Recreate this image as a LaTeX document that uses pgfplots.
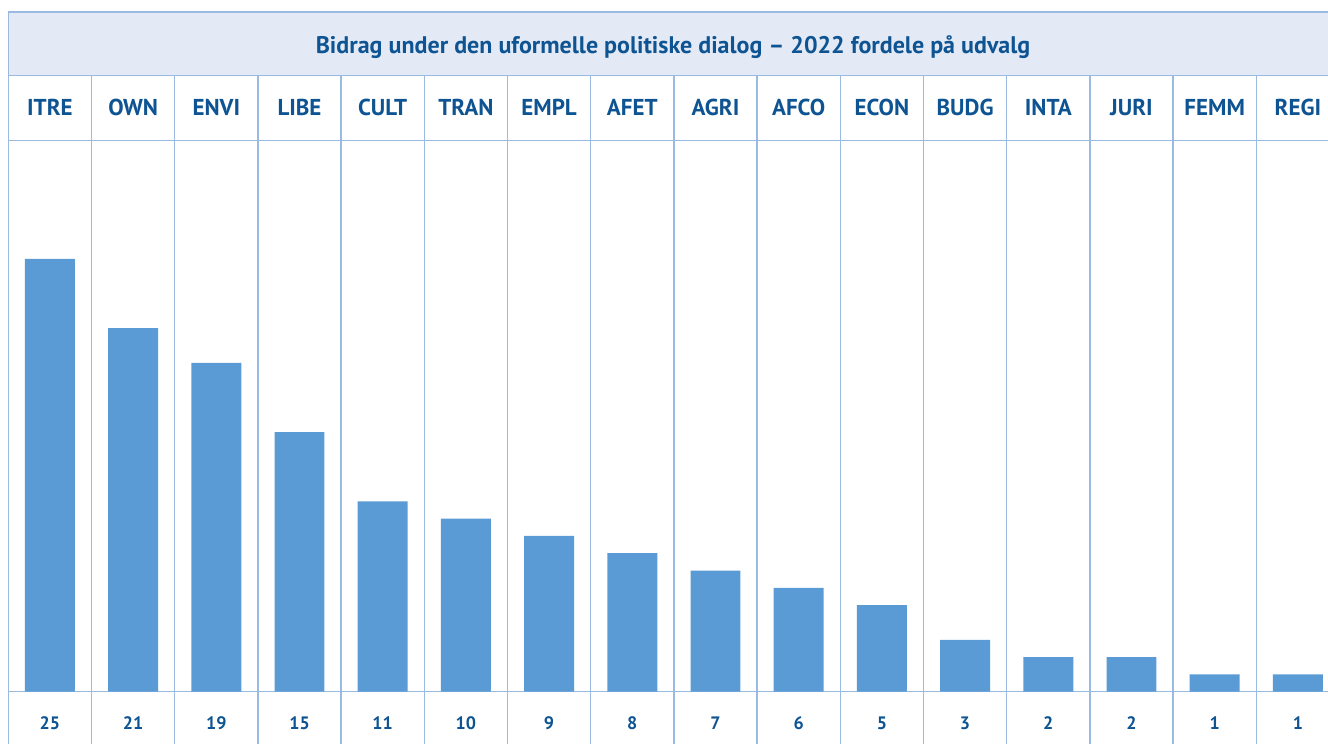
\documentclass[border=0pt]{standalone}
\usepackage{pgfplots}
\usepackage{pgfplotstable}
\pgfplotsset{compat=1.18}
\usepackage{fontspec}
\setmainfont{PT Sans}
\definecolor{txtblue}{RGB}{14,84,146}
\definecolor{barblue}{RGB}{91,155,213}
\definecolor{gridblue}{RGB}{155,186,224}
\definecolor{bandblue}{RGB}{227,234,246}
\pgfplotstableread{
x name value
0 ITRE 25
1 OWN 21
2 ENVI 19
3 LIBE 15
4 CULT 11
5 TRAN 10
6 EMPL 9
7 AFET 8
8 AGRI 7
9 AFCO 6
10 ECON 5
11 BUDG 3
12 INTA 2
13 JURI 2
14 FEMM 1
15 REGI 1
}\data
\begin{document}
\begin{tikzpicture}
\begin{axis}[
  width=664pt, height=372pt, scale only axis,
  xmin=-0.5998, xmax=15.362, ymin=-3.02, ymax=39.96,
  hide axis, clip=true,
]
% title band
\fill[bandblue] (axis cs:-0.5,35.61) rectangle (axis cs:16,39.27);
% horizontal lines
\draw[gridblue, line width=0.75pt] (axis cs:-0.5,39.27) -- (axis cs:16,39.27);
\draw[gridblue, line width=0.75pt] (axis cs:-0.5,35.61) -- (axis cs:16,35.61);
\draw[gridblue, line width=0.75pt] (axis cs:-0.5,31.85) -- (axis cs:16,31.85);
\draw[gridblue, line width=0.75pt] (axis cs:-0.5,0) -- (axis cs:16,0);
% left border
\draw[gridblue, line width=0.75pt] (axis cs:-0.5,-3.1) -- (axis cs:-0.5,39.27);
% column separators
\foreach \k in {0.5,1.5,...,15.5} {
  \edef\tmp{\noexpand\draw[gridblue, line width=0.75pt] (axis cs:\k,-3.1) -- (axis cs:\k,35.61);}
  \tmp
}
% bars
\addplot[ybar, bar width=0.6, fill=barblue, draw=none] table[x=x, y=value]{\data};
% header labels
\addplot[draw=none, mark=none,
  nodes near coords={\pgfplotspointmeta},
  point meta=explicit symbolic,
  nodes near coords style={anchor=center, text=txtblue, font=\fontsize{11.5}{13}\selectfont\bfseries, inner sep=0pt}]
  table[x=x, y expr=33.75, meta=name]{\data};
% value labels
\addplot[draw=none, mark=none,
  nodes near coords={\pgfplotspointmeta},
  point meta=explicit symbolic,
  nodes near coords style={anchor=center, text=txtblue, font=\fontsize{9}{10}\selectfont\bfseries, inner sep=0pt}]
  table[x=x, y expr=-1.8, meta=value]{\data};
% title
\node[text=txtblue, font=\fontsize{12}{14}\selectfont\bfseries, anchor=center, inner sep=0pt]
  at (axis cs:7.49,37.25) {Bidrag under den uformelle politiske dialog – 2022 fordele på udvalg};
\end{axis}
\pgfresetboundingbox
\path[use as bounding box] (current axis.south west) rectangle (current axis.north east);
\end{tikzpicture}
\end{document}
